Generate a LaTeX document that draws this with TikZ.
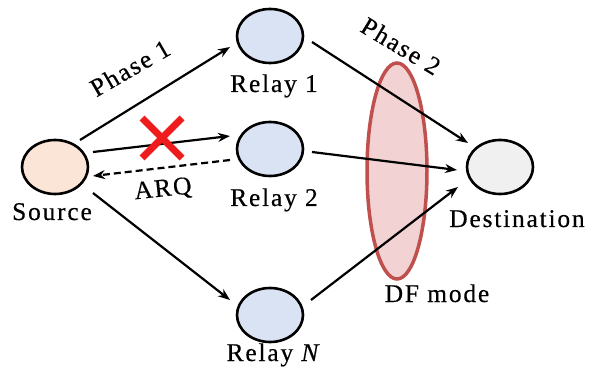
\documentclass[tikz,border=0pt]{standalone}
\usepackage{fontspec}
\setmainfont{Liberation Serif}[LetterSpace=7,FakeBold=0.4]
\usetikzlibrary{shapes.geometric,arrows.meta}
\definecolor{srcfill}{HTML}{FBE5D6}
\definecolor{relfill}{HTML}{DAE3F3}
\definecolor{dstfill}{HTML}{F0F0F0}
\definecolor{dfpink}{HTML}{F2D2D2}
\definecolor{dfred}{HTML}{C0504D}
\definecolor{xred}{HTML}{EE1C1C}
\begin{document}
\begin{tikzpicture}[x=1pt,y=-1pt,
  nd/.style={ellipse,draw=black,line width=2.6pt,minimum width=66pt,minimum height=54pt,inner sep=0pt},
  lab/.style={font=\fontsize{25.5}{30}\selectfont,inner sep=0pt},
  arr/.style={line width=2.2pt,-{Stealth[length=12pt,width=9pt]}},
  xmark/.style={line width=7pt,xred},
]
\useasboundingbox (0,0) rectangle (595,377);
% DF mode region
\node[ellipse,draw=dfred,fill=dfpink,line width=3.5pt,minimum width=60pt,minimum height=216pt,inner sep=0pt] (df) at (397,171) {};
% nodes
\node[nd,fill=srcfill] (src) at (55,167) {};
\node[nd,fill=relfill] (r1) at (270,36) {};
\node[nd,fill=relfill] (r2) at (270,149) {};
\node[nd,fill=relfill] (rN) at (270,315) {};
\node[nd,fill=dstfill] (dst) at (500,167) {};
% labels
\node[lab,anchor=base] (srcl) at (52,220) {Source};
\node[lab,anchor=base] (r1l) at (274,92) {Relay 1};
\node[lab,anchor=base] (r2l) at (274,206) {Relay 2};
\node[lab,anchor=base] (rNl) at (274,361) {Relay \textit{N}};
\node[lab,anchor=base] (dstl) at (517,227) {Destination};
\node[lab,anchor=base] (dfl) at (437,302) {DF mode};
\node[lab,rotate=30] (ph1) at (130,68) {Phase 1};
\node[lab,rotate=-31] (ph2) at (401,46) {Phase 2};
\node[lab,rotate=6] (arq) at (163,190) {ARQ};
% phase 1 links
\draw[arr] ([shift={(25,-27)}]src.center) -- ([shift={(-40,11)}]r1.center);
\draw[arr] ([shift={(38,-15)}]src.center) -- ([shift={(-40,-13)}]r2.center);
\draw[arr,dash pattern=on 7pt off 4pt] ([shift={(-40,11)}]r2.center) -- ([shift={(38,9)}]src.center);
\draw[arr] ([shift={(38,26)}]src.center) -- ([shift={(-40,-15)}]rN.center);
% phase 2 links
\draw[arr] ([shift={(42,6)}]r1.center) -- ([shift={(-32,-24)}]dst.center);
\draw[arr] ([shift={(42,3)}]r2.center) -- ([shift={(-43,3)}]dst.center);
\draw[arr] ([shift={(41,-15)}]rN.center) -- ([shift={(-42,20)}]dst.center);
% failure mark
\coordinate (xc) at (162,138);
\draw[xmark] ([shift={(-20,-20)}]xc) -- ([shift={(20,20)}]xc);
\draw[xmark] ([shift={(-20,20)}]xc) -- ([shift={(20,-20)}]xc);
\end{tikzpicture}
\end{document}
